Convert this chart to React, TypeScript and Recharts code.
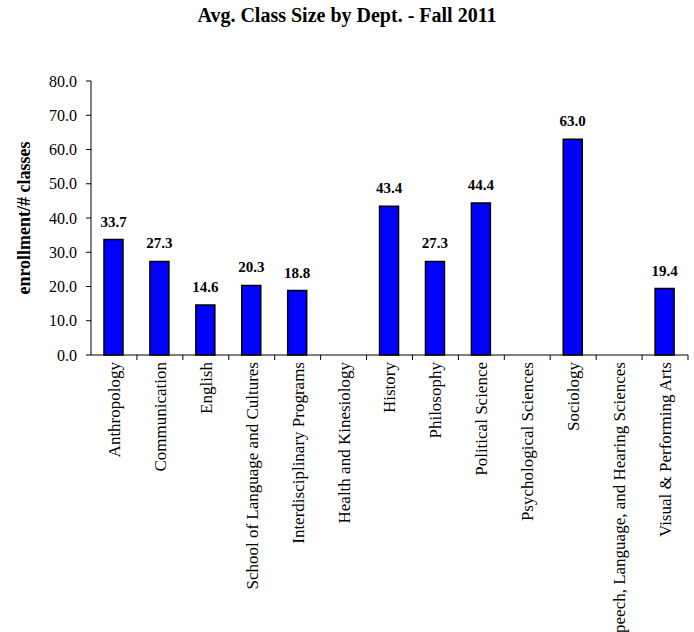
import { Bar, BarChart, LabelList, XAxis, YAxis } from 'recharts'

const departments = [
  'Anthropology',
  'Communication',
  'English',
  'School of Language and Cultures',
  'Interdisciplinary Programs',
  'Health and Kinesiology',
  'History',
  'Philosophy',
  'Political Science',
  'Psychological Sciences',
  'Sociology',
  'Speech, Language, and Hearing Sciences',
  'Visual & Performing Arts',
]

const classSizes: (number | null)[] = [33.7, 27.3, 14.6, 20.3, 18.8, null, 43.4, 27.3, 44.4, null, 63.0, null, 19.4]

const yTicks = [0, 10, 20, 30, 40, 50, 60, 70, 80]

const data = departments.map((dept, i) => ({ dept, size: classSizes[i] }))

const FONT = '"Liberation Serif", "Times New Roman", serif'
const PLOT_LEFT = 91
const PLOT_RIGHT = 688
const BAND = (PLOT_RIGHT - PLOT_LEFT) / departments.length

function DeptTick(props: any) {
  const { x, y, payload } = props
  const axisY = y - 7
  return (
    <g>
      <line x1={x + BAND / 2} x2={x + BAND / 2} y1={axisY} y2={axisY + 5} stroke="#000" />
      <text
        x={x}
        y={y}
        transform={`rotate(-90, ${x}, ${y})`}
        textAnchor="end"
        dy="0.35em"
        fontSize={17}
        fontFamily={FONT}
        fill="#000"
      >
        {payload.value}
      </text>
    </g>
  )
}

function YTitle(props: any) {
  const vb = props.viewBox || { x: 0, y: 81, width: 91, height: 274 }
  const cx = 24
  const cy = vb.y + vb.height / 2
  return (
    <text
      x={cx}
      y={cy}
      transform={`rotate(-90, ${cx}, ${cy})`}
      textAnchor="middle"
      dy="0.35em"
      fontSize={18}
      fontWeight="bold"
      fontFamily={FONT}
      fill="#000"
    >
      enrollment/# classes
    </text>
  )
}

function ValueLabel(props: any) {
  const { x, y, width, value } = props
  if (value === null || value === undefined) return null
  return (
    <text
      x={x + width / 2}
      y={y - 13}
      textAnchor="middle"
      fontSize={15}
      fontWeight="bold"
      fontFamily={FONT}
      fill="#000"
    >
      {Number(value).toFixed(1)}
    </text>
  )
}

export default function App() {
  return (
    <div style={{ position: 'absolute', left: 0, top: 0, width: 694, height: 632, background: '#fff' }}>
      <div
        style={{
          position: 'absolute',
          top: 4,
          left: 0,
          width: 694,
          textAlign: 'center',
          fontFamily: FONT,
          fontWeight: 'bold',
          fontSize: 20,
        }}
      >
        Avg. Class Size by Dept. - Fall 2011
      </div>
      <BarChart
        width={694}
        height={632}
        data={data}
        margin={{ top: 81, right: 694 - PLOT_RIGHT, left: 0, bottom: 0 }}
      >
        <XAxis
          dataKey="dept"
          interval={0}
          height={277}
          tickLine={false}
          tickSize={0}
          tickMargin={7}
          axisLine={{ stroke: '#000' }}
          tick={<DeptTick />}
        />
        <YAxis
          width={PLOT_LEFT}
          domain={[0, 80]}
          ticks={yTicks}
          interval={0}
          tickSize={5}
          tickMargin={9}
          tickFormatter={(v: number) => v.toFixed(1)}
          axisLine={{ stroke: '#000' }}
          tickLine={{ stroke: '#000' }}
          tick={{ fontSize: 16, fontFamily: FONT, fill: '#000' }}
          label={<YTitle />}
        />
        <Bar dataKey="size" fill="#0000ff" stroke="#000" strokeWidth={1.5} barSize={19} isAnimationActive={false}>
          <LabelList dataKey="size" content={<ValueLabel />} />
        </Bar>
      </BarChart>
    </div>
  )
}
